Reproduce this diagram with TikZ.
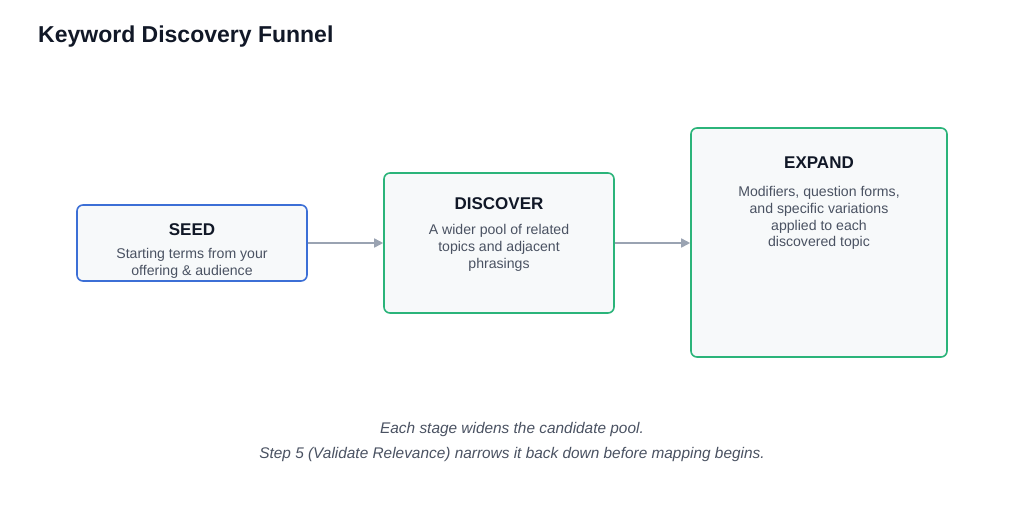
\documentclass[tikz,border=0pt]{standalone}
\usepackage{fontspec}
\setmainfont{Liberation Sans}
\usetikzlibrary{arrows.meta}
\definecolor{bluec}{HTML}{3C6FD6}
\definecolor{greenc}{HTML}{2BB47A}
\definecolor{boxfill}{HTML}{F7F9FA}
\definecolor{arrowc}{HTML}{9AA3B2}
\definecolor{bodyc}{HTML}{4A5262}
\definecolor{titlec}{HTML}{111827}
\begin{document}
\begin{tikzpicture}[x=1pt,y=-1pt,
  box/.style={draw, line width=1.6pt, rounded corners=6pt, fill=boxfill},
  ttl/.style={font=\bfseries\fontsize{17}{20}\selectfont, text=titlec},
  body/.style={font=\fontsize{14.1}{16.8}\selectfont, text=bodyc, align=center},
  arr/.style={draw=arrowc, line width=1.6pt, -{Triangle[length=9pt,width=9pt]}},
  captxt/.style={font=\itshape\fontsize{15.4}{18}\selectfont, text=bodyc}]
\useasboundingbox[fill=white] (0,0) rectangle (1024,512);
\node[anchor=west, inner sep=0pt, font=\bfseries\fontsize{23}{26}\selectfont, text=titlec] (title) at (38,37) {Keyword Discovery Funnel};
\node[box, draw=bluec, minimum width=230, minimum height=76] (seed) at (192,243) {};
\node[box, draw=greenc, minimum width=230, minimum height=140] (disc) at (499,243) {};
\node[box, draw=greenc, minimum width=256, minimum height=229] (exp) at (819,242.5) {};
\node[ttl] (seedt) at (192,230) {SEED};
\node[body] (seedb) at (192,263) {Starting terms from your\\offering \& audience};
\node[ttl] (disct) at (499,204) {DISCOVER};
\node[body] (discb) at (499,248) {A wider pool of related\\topics and adjacent\\phrasings};
\node[ttl] (expt) at (819,163) {EXPAND};
\node[body] (expb) at (819,218) {Modifiers, question forms,\\and specific variations\\applied to each\\discovered topic};
\draw[arr] (seed.east) -- (disc.west);
\draw[arr] (disc.east) -- (disc.east -| exp.west);
\node[captxt] (cap1) at (512,430) {Each stage widens the candidate pool.};
\node[captxt] (cap2) at (512,455) {Step 5 (Validate Relevance) narrows it back down before mapping begins.};
\end{tikzpicture}
\end{document}
